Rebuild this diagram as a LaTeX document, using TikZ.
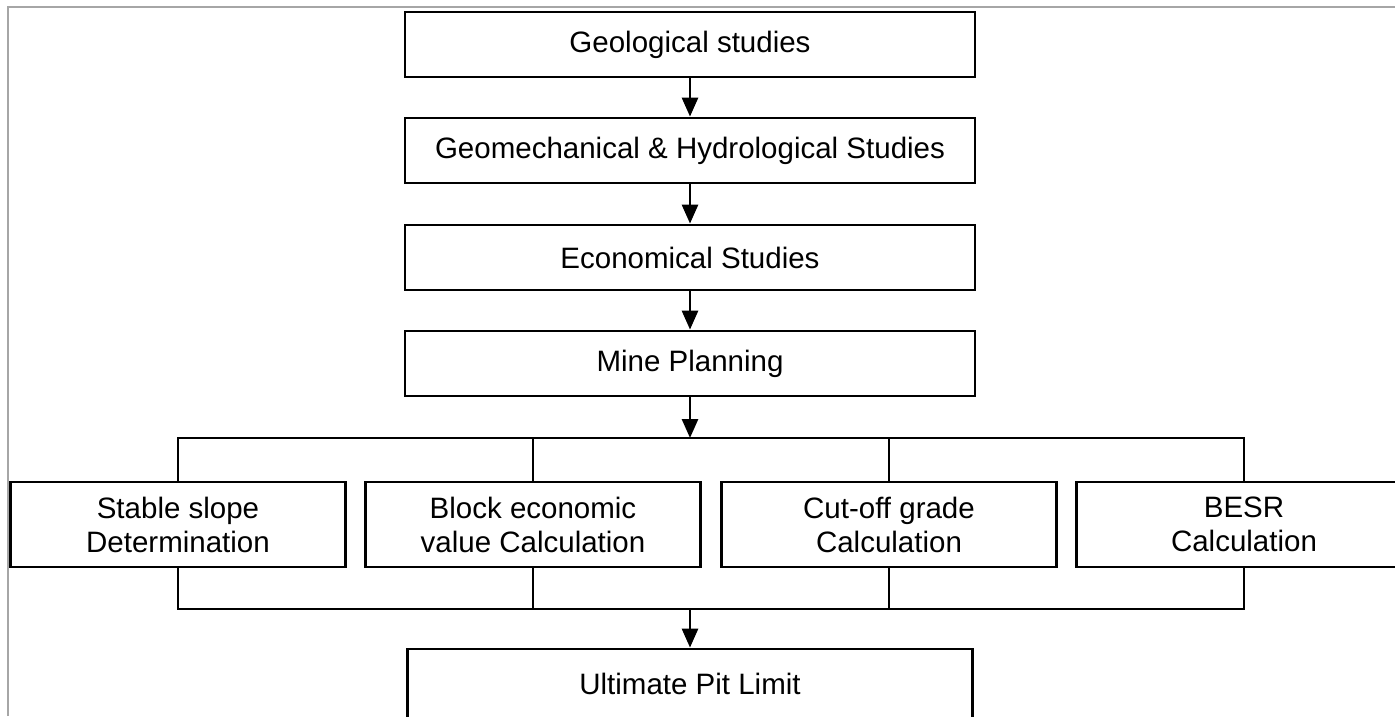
\documentclass[tikz,border=0pt]{standalone}
\usepackage{fontspec}
\setmainfont{Liberation Sans}
\usetikzlibrary{arrows.meta}

\tikzset{
    stage/.style={draw, line width=2.8pt, minimum width=570pt, minimum height=65pt,
        inner sep=0pt, align=center, font=\fontsize{29.5}{34}\selectfont},
    task/.style={stage, minimum width=335pt, minimum height=85pt},
    flow/.style={line width=2.8pt, -{Triangle[length=19pt,width=16pt]}},
    link/.style={line width=2.8pt}
}

\begin{document}
\begin{tikzpicture}[x=1pt,y=1pt]
            \clip (0,0) rectangle (1395,716);
            \draw[gray!70, line width=2pt] (8,0)--(8,709)--(1395,709);

            \node[stage] (geo) at (690,671.5) {Geological studies};
            \node[stage] (geomech) at (690,565.5) {Geomechanical \& Hydrological Studies};
            \node[stage] (econ) at (690,458.5) {Economical Studies};
            \node[stage] (plan) at (690,352.5) {Mine Planning};

            \node[task] (slope) at (178,191.5) {Stable slope\\Determination};
            \node[task] (bev) at (533,191.5) {Block economic\\value Calculation};
            \node[task] (cutoff) at (889,191.5) {Cut-off grade\\Calculation};
            \node[task] (besr) at (1244,191.5) {BESR\\Calculation};

            \node[stage, minimum width=565pt, minimum height=70pt] (upl) at (690,32) {Ultimate Pit Limit};

            \coordinate (split) at (690,278);
            \coordinate (merge) at (690,107);

            \draw[flow] (geo)--(geomech);
            \draw[flow] (geomech)--(econ);
            \draw[flow] (econ)--(plan);
            \draw[flow] (plan)--(split);

            % branches to the four calculations
            \draw[link] (slope.north)--(slope.north |- split)--(besr.north |- split)--(besr.north);
            \draw[link] (bev.north)--(bev.north |- split);
            \draw[link] (cutoff.north)--(cutoff.north |- split);

            % and back together
            \draw[link] (slope.south)--(slope.south |- merge)--(besr.south |- merge)--(besr.south);
            \draw[link] (bev.south)--(bev.south |- merge);
            \draw[link] (cutoff.south)--(cutoff.south |- merge);
            \draw[flow] (merge)--(upl);
        \end{tikzpicture}
\end{document}
